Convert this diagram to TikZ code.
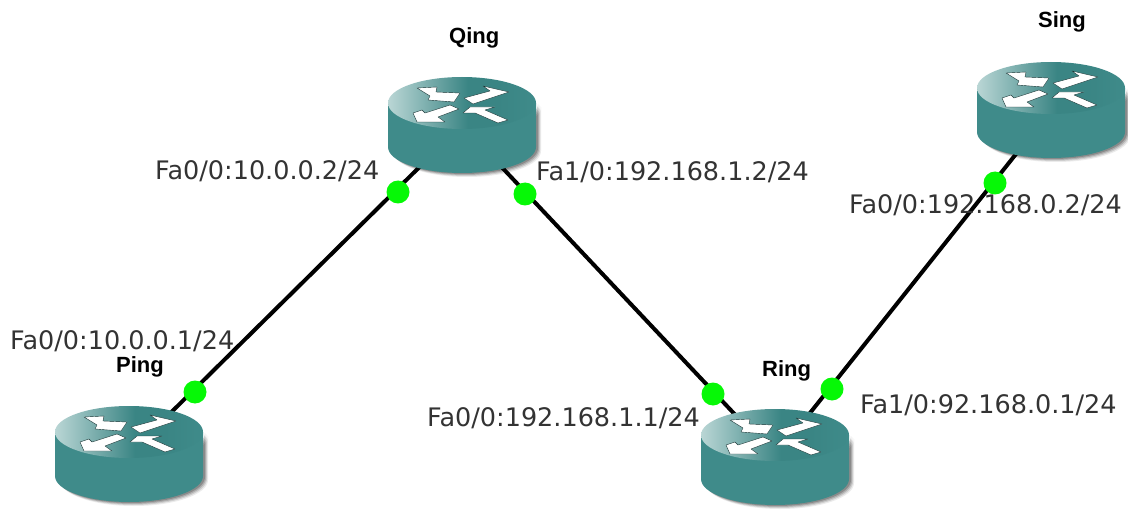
\documentclass[tikz,border=0pt]{standalone}
\usepackage{fontspec}
\setmainfont{DejaVu Sans}
\newfontfamily\namefont{Liberation Sans}[BoldFont={Liberation Sans Bold}]
\definecolor{routerteal}{HTML}{3F8B8A}
\definecolor{routerlight}{HTML}{BAD6D5}
\definecolor{routerdark}{HTML}{3A8584}
\definecolor{linkdot}{HTML}{06F806}
\definecolor{labelgrey}{HTML}{333333}
\pgfdeclarehorizontalshading{routertop}{100bp}{
  color(0bp)=(routerlight);
  color(25bp)=(routerlight);
  color(52bp)=(routerdark);
  color(62bp)=(routerdark);
  color(75bp)=(routerteal);
  color(100bp)=(routerteal)}
\tikzset{
  x=1pt,y=-1pt,
  link/.style={draw=black,line width=4pt},
  linkend/.style={circle,fill=linkdot,inner sep=0pt,minimum size=23pt},
  iface/.style={anchor=base west,inner sep=0pt,font=\fontsize{25.5}{27}\selectfont,text=labelgrey},
  hostname/.style={anchor=base west,inner sep=0pt,font=\namefont\bfseries\fontsize{22}{24}\selectfont,text=black},
  arrowglyph/.style={fill=white,draw=black!60!routerdark,line width=0.4pt,line join=round},
  router/.pic={
    \foreach \o/\s in {5/0.08,4/0.12,3/0.16,2/0.20}{
      \fill[black,opacity=\s,shift={(\o,\o-1)}] (-74,-22) -- (-74,22) arc[start angle=180,end angle=360,x radius=74,y radius=-26]
        -- (74,-22) arc[start angle=0,end angle=-180,x radius=74,y radius=-26] -- cycle;
    }
    \fill[routerteal] (-74,-22) -- (-74,22) arc[start angle=180,end angle=360,x radius=74,y radius=-26]
      -- (74,-22) -- cycle;
    \shade[shading=routertop] (0,-22) ellipse[x radius=74,y radius=26];
    \path[arrowglyph] (-45,-37) -- (-25,-38) -- (-26,-33) -- (-2,-32) -- (-8,-23) -- (-34,-25) -- (-32,-29) -- cycle;
    \path[arrowglyph] (47,-33) -- (21,-39) -- (28,-34) -- (2,-27) -- (11,-21) -- (38,-30) -- cycle;
    \path[arrowglyph] (-49,-12) -- (-45,-3) -- (-17,-3) -- (-24,-8) -- (-3,-16) -- (-12,-20) -- (-37,-12) -- (-40,-15) -- cycle;
    \path[arrowglyph] (1,-12) -- (8,-18) -- (33,-18) -- (23,-15) -- (46,-5) -- (36,-2) -- (13,-12) -- cycle;
  }
}
\begin{document}
\begin{tikzpicture}
\useasboundingbox (0,0) rectangle (1128,516);
\coordinate (ping) at (129,454);
\coordinate (qing) at (462,125);
\coordinate (ring) at (775,457);
\coordinate (sing) at (1051,110);
\draw[link] (ping) -- (qing);
\draw[link] (qing) -- (ring);
\draw[link] (ring) -- (sing);
\pic at (ping) {router};
\pic at (qing) {router};
\pic at (ring) {router};
\pic at (sing) {router};
\node[linkend] (d1) at (398,192) {};
\node[linkend] (d2) at (525,194) {};
\node[linkend] (d3) at (195,392) {};
\node[linkend] (d4) at (713,394) {};
\node[linkend] (d5) at (832,389) {};
\node[linkend] (d6) at (995,183) {};
\node[hostname] (nq) at (449,44) {Qing};
\node[hostname] (ns) at (1038,28) {Sing};
\node[hostname] (np) at (116,372) {Ping};
\node[hostname] (nr) at (762,376) {Ring};
\node[iface] (l1) at (155,180) {Fa0/0:10.0.0.2/24};
\node[iface] (l2) at (536,181) {Fa1/0:192.168.1.2/24};
\node[iface] (l3) at (849,214) {Fa0/0:192.168.0.2/24};
\node[iface] (l4) at (10,349) {Fa0/0:10.0.0.1/24};
\node[iface] (l5) at (427,426) {Fa0/0:192.168.1.1/24};
\node[iface] (l6) at (860,413) {Fa1/0:92.168.0.1/24};
\end{tikzpicture}
\end{document}
